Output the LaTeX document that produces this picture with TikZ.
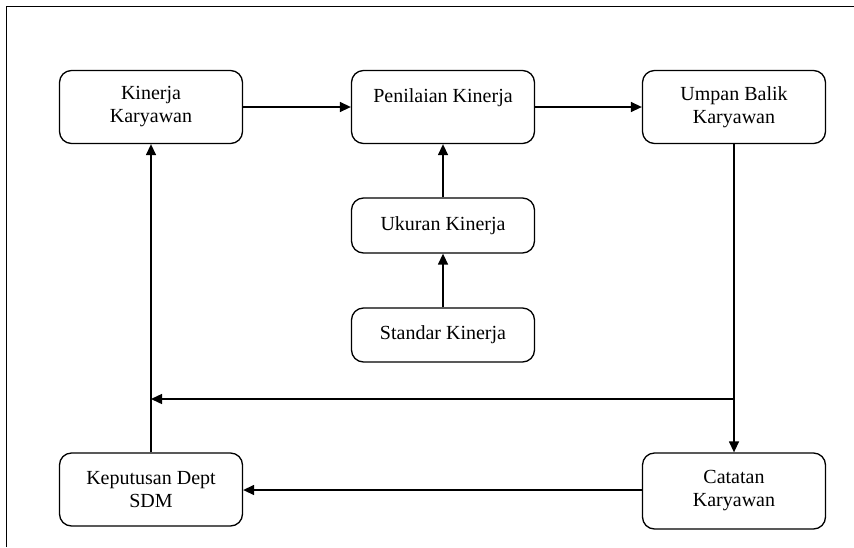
\documentclass[tikz,border=0pt]{standalone}
\usepackage{fontspec}
\setmainfont{Liberation Serif}
\usetikzlibrary{arrows.meta}
\begin{document}
\begin{tikzpicture}[x=1pt,y=-1pt,
  box/.style={draw,line width=1.3pt,rounded corners=12pt,inner sep=0pt,
    minimum width=183pt,minimum height=73pt,align=center,
    font=\fontsize{20}{23}\selectfont},
  arr/.style={line width=1.4pt,-{Triangle[length=11pt,width=10pt]}},
  frame/.style={line width=1pt}]
\useasboundingbox (0,0) rectangle (854,547);
\draw[frame] (6,547) -- (6,6) -- (854,6);
\node[box] (kk) at (151,107) {Kinerja\\Karyawan};
\node[box] (pk) at (443,107) {Penilaian Kinerja\\\mbox{}};
\node[box] (ub) at (734,107) {Umpan Balik\\Karyawan};
\node[box,minimum height=55pt] (uk) at (443,225.5) {Ukuran Kinerja};
\node[box,minimum height=54pt] (sk) at (443,335) {Standar Kinerja};
\node[box,minimum height=76pt] (ck) at (734,491) {Catatan\\Karyawan};
\node[box] (kd) at (151,489.5) {Keputusan Dept\\SDM};
\draw[arr] (kk.east) -- (pk.west);
\draw[arr] (pk.east) -- (ub.west);
\draw[arr] (uk.north) -- (pk.south);
\draw[arr] (sk.north) -- (uk.south);
\draw[arr] (ub.south) -- (ck.north);
\coordinate (j) at (734,399);
\draw[arr] (j) -- (kk.south |- j);
\draw[arr] (kd.north) -- (kk.south);
\draw[arr] (ck.west |- 0,490) -- (kd.east |- 0,490);
\end{tikzpicture}
\end{document}
